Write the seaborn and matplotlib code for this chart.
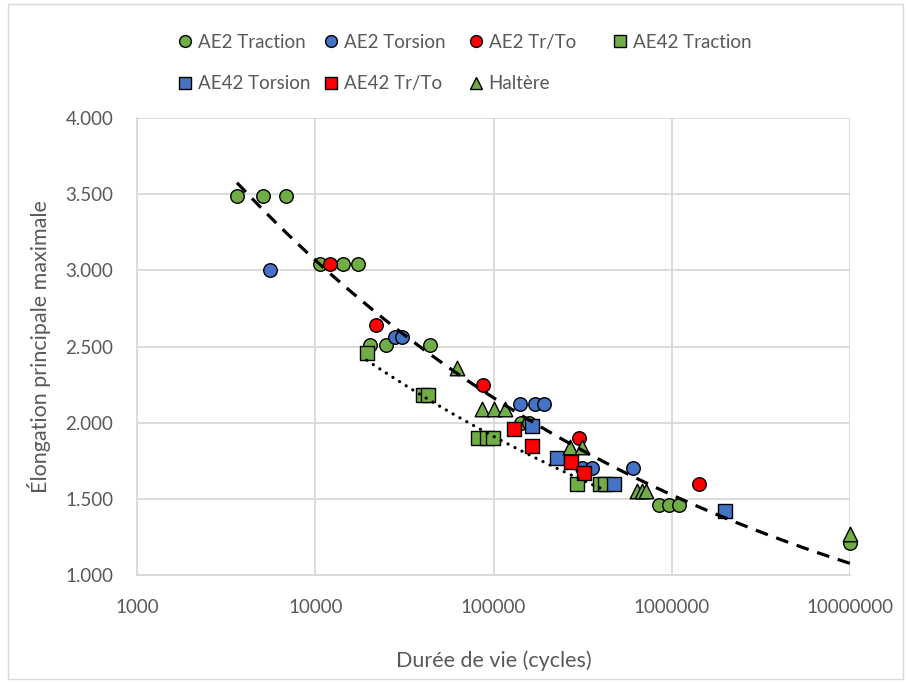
import numpy as np
import matplotlib
matplotlib.use("Agg")
import matplotlib.pyplot as plt
import seaborn as sns
from matplotlib.ticker import FixedLocator, FuncFormatter
from matplotlib.patches import Rectangle

# ============ Data ============
ae2_trac_x = [3640, 5090, 6860, 10640, 14260, 17440, 20290, 24850, 44030,
              142000, 158000, 851700, 968900, 1103000, 10000000]
ae2_trac_y = [3.49, 3.49, 3.49, 3.04, 3.04, 3.04, 2.51, 2.51, 2.51,
              2.00, 2.00, 1.46, 1.46, 1.46, 1.21]

ae2_tors_x = [5570, 28020, 30540, 140800, 170900, 192700, 312400, 355400, 604000]
ae2_tors_y = [3.00, 2.56, 2.56, 2.12, 2.12, 2.12, 1.70, 1.70, 1.70]

ae2_trto_x = [12100, 21930, 87700, 302900, 1428000]
ae2_trto_y = [3.04, 2.64, 2.25, 1.90, 1.60]

ae42_trac_x = [19440, 40070, 43070, 82200, 91600, 99700, 293000, 395700, 422300]
ae42_trac_y = [2.46, 2.18, 2.18, 1.90, 1.90, 1.90, 1.60, 1.60, 1.60]

ae42_tors_x = [163800, 226100, 474600, 1990000]
ae42_tors_y = [1.98, 1.77, 1.60, 1.42]

ae42_trto_x = [130900, 163800, 271000, 323000]
ae42_trto_y = [1.96, 1.85, 1.74, 1.67]

haltere_x = [62400, 85900, 100700, 115900, 268700, 312500, 635600, 678000, 713700, 10000000]
haltere_y = [2.36, 2.09, 2.09, 2.09, 1.84, 1.84, 1.55, 1.55, 1.55, 1.27]

x_ticks = [1000, 10000, 100000, 1000000, 10000000]
y_ticks = [1.0, 1.5, 2.0, 2.5, 3.0, 3.5, 4.0]

# ============ Style ============
sns.set_style("white")
plt.rcParams['font.family'] = ['Lato', 'DejaVu Sans']
text_col = '#595959'
grid_col = '#D9D9D9'
green, blue, red = '#70AD47', '#4472C4', '#FF0000'

series = [
    ("AE2 Traction", ae2_trac_x, ae2_trac_y, 'o', green),
    ("AE2 Torsion", ae2_tors_x, ae2_tors_y, 'o', blue),
    ("AE2 Tr/To", ae2_trto_x, ae2_trto_y, 'o', red),
    ("AE42 Traction", ae42_trac_x, ae42_trac_y, 's', green),
    ("AE42 Torsion", ae42_tors_x, ae42_tors_y, 's', blue),
    ("AE42 Tr/To", ae42_trto_x, ae42_trto_y, 's', red),
    ("Haltère", haltere_x, haltere_y, '^', green),
]

fig = plt.figure(figsize=(9.06, 6.82), dpi=100)
ax = fig.add_axes([137 / 906, 1 - 575 / 682, (850 - 137) / 906, (575 - 118) / 682])

handles = {}
for name, xs, ys, mk, col in series:
    size = 95 if mk != '^' else 110
    sns.scatterplot(x=xs, y=ys, marker=mk, color=col, edgecolor='black',
                    linewidth=1.0, s=size, ax=ax, zorder=3, clip_on=False)
    handles[name] = plt.Line2D([], [], marker=mk, linestyle='', markerfacecolor=col,
                               markeredgecolor='black', markeredgewidth=1.0,
                               markersize=8.5)


# ============ Power trendlines (Excel style) ============
def power_fit(xs, ys):
    b, lna = np.polyfit(np.log(xs), np.log(ys), 1)
    xf = np.geomspace(min(xs), max(xs), 200)
    return xf, np.exp(lna) * xf ** b


xf, yf = power_fit(ae2_trac_x, ae2_trac_y)
ax.plot(xf, yf, color='black', linewidth=2.3, linestyle=(0, (4, 2.8)), zorder=4,
        clip_on=False)
xf, yf = power_fit(ae42_trac_x, ae42_trac_y)
ax.plot(xf, yf, color='black', linewidth=2.3, linestyle=(0, (0.05, 2.4)),
        dash_capstyle='round', zorder=4)

# ============ Axes ============
ax.set_xscale('log')
ax.set_xlim(1000, 10000000)
ax.set_ylim(1.0, 4.0)
ax.xaxis.set_major_locator(FixedLocator(x_ticks))
ax.xaxis.set_minor_locator(FixedLocator([]))
ax.xaxis.set_major_formatter(FuncFormatter(lambda v, p: f"{int(round(v))}"))
ax.yaxis.set_major_locator(FixedLocator(y_ticks))
ax.yaxis.set_major_formatter(FuncFormatter(lambda v, p: f"{v:.3f}"))
ax.grid(True, color=grid_col, linewidth=1.3)
ax.set_axisbelow(True)
for s in ['top', 'right']:
    ax.spines[s].set_visible(False)
for s in ['left', 'bottom']:
    ax.spines[s].set_color(grid_col)
    ax.spines[s].set_linewidth(1.3)
ax.tick_params(axis='both', length=0, labelsize=13.5, labelcolor=text_col)
ax.tick_params(axis='x', pad=17)
ax.tick_params(axis='y', pad=17)

ax.set_xlabel("Durée de vie (cycles)", fontsize=15.5, color=text_col)
ax.set_ylabel("Élongation principale maximale", fontsize=15.5, color=text_col)
ax.xaxis.set_label_coords(0.5, -0.165)
ax.yaxis.set_label_coords(-0.12, 0.5)

# ============ Legend: 4 equal-width columns, 2 rows ============
columns = [["AE2 Traction", "AE42 Torsion"], ["AE2 Torsion", "AE42 Tr/To"],
           ["AE2 Tr/To", "Haltère"], ["AE42 Traction"]]
col_x = [185, 331, 476, 620]
for names, cx in zip(columns, col_x):
    leg = fig.legend([handles[n] for n in names], names, loc='upper left',
                     bbox_to_anchor=((cx - 7) / 906, 1 - 34 / 682),
                     frameon=False, fontsize=13.5, handlelength=0.75,
                     handletextpad=0.3, borderpad=0, borderaxespad=0,
                     labelspacing=1.3)
    for t in leg.get_texts():
        t.set_color(text_col)

fig.patches.append(Rectangle((8 / 906, 3 / 682), 895 / 906, 675 / 682,
                             transform=fig.transFigure, fill=False,
                             edgecolor=grid_col, linewidth=1.0))

fig.savefig("out.png", dpi=100)
